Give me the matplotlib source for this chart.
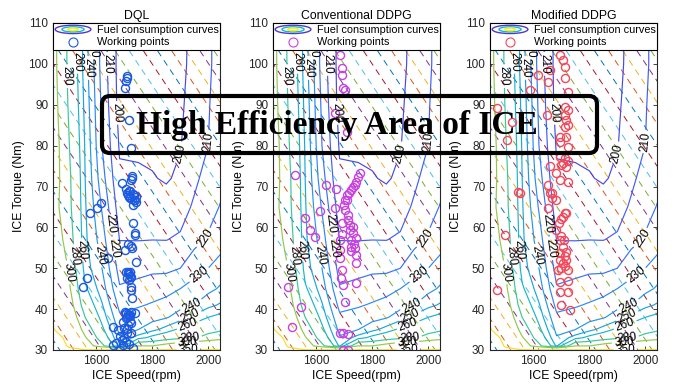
import numpy as np
import matplotlib
matplotlib.use('Agg')
import matplotlib.pyplot as plt
from matplotlib.colors import LinearSegmentedColormap, Normalize
from matplotlib.legend_handler import HandlerBase
from matplotlib.patches import Ellipse, Rectangle, FancyBboxPatch
from matplotlib.lines import Line2D

plt.rcParams['font.family'] = ['Liberation Sans', 'DejaVu Sans']
plt.rcParams['lines.dashed_pattern'] = (6.5, 5.0)

# ---- engine BSFC map (g/kWh), rows = torque, cols = speed ----
map_speed = [1440, 1500, 1560, 1620, 1683, 1750, 1800, 1850, 1900, 1950, 2000, 2050]
map_torque = [30, 31, 33, 35, 38, 41, 45, 50, 57, 65, 72, 80, 90, 100, 110]
bsfc = [
    [420, 360, 352, 352, 352, 352, 352, 352, 352, 352, 352, 352],
    [400, 345, 315, 285, 248, 300, 300, 309, 318, 322, 325, 330],
    [370, 340, 302, 270, 241, 255, 264, 271, 276, 278, 287, 292],
    [354, 330, 292, 263, 237, 240, 247, 254, 263, 268, 273, 278],
    [348, 320, 280, 256, 232, 234, 236, 239, 245, 253, 260, 264],
    [344, 312, 270, 251, 227, 229, 231, 234, 237, 240, 247, 252],
    [339, 305, 262, 245, 221, 223, 225, 226, 230, 234, 237, 242],
    [333, 299, 255, 240, 216, 217, 218, 218, 220, 226, 230, 235],
    [318, 291, 252, 235, 209.8, 209.7, 209.9, 209.8, 211.3, 217, 221, 226],
    [311, 286, 251, 229, 205, 205.3, 205, 204, 206, 211.4, 216.8, 221],
    [314, 285, 250, 224, 201.5, 201.4, 200.6, 199, 201.8, 208, 213.6, 218],
    [315, 282, 249, 220, 199, 198.5, 198, 197, 199.5, 206, 210, 215],
    [312, 279, 247, 218, 196.5, 196.5, 196, 195.5, 198.5, 204, 209.5, 214],
    [310, 277, 245, 216, 196, 195.5, 195, 194.5, 197.5, 203, 209, 213],
    [310, 277, 245, 216, 196, 195.5, 195, 194.5, 197, 203, 209, 213],
]
bsfc_levels = [200, 210, 220, 230, 240, 250, 260, 280, 300, 350]

# dashed iso-lines (corner table, linear)
iso_speed = [1440, 2050]
iso_torque = [30, 110]
iso_map = [[30, 92.8], [110, 172.8]]
iso_levels = [33, 38.2, 43.4, 48.6, 53.8, 59, 64.2, 69.4, 74.6, 79.8, 85, 90.2, 95.4,
              100.6, 105.8, 111, 116.2, 121.4, 126.6, 131.8, 137, 142.2, 147.4, 152.6,
              157.8, 163, 168.2]

# ---- working points ----
dql_speed = [1708, 1708, 1707, 1704, 1717, 1723, 1693, 1727, 1729, 1725,
             1708, 1712, 1718, 1722, 1727, 1733, 1738, 1742, 1715, 1720, 1730, 1735, 1740, 1731, 1705,
             1577, 1601, 1618, 1731, 1737, 1738, 1713, 1702, 1729, 1725, 1741, 1642, 1565, 1551,
             1707, 1712, 1716, 1720, 1724, 1710, 1718, 1714, 1722,
             1725, 1725, 1729,
             1702, 1707, 1712, 1717, 1722, 1725, 1737, 1710, 1705,
             1725, 1713, 1722, 1660, 1677, 1685, 1708, 1725, 1672, 1695, 1660, 1684, 1731,
             1700, 1690, 1705, 1715, 1700, 1695, 1710]
dql_torque = [97, 96.5, 95.7, 94, 86.3, 79.3, 70.9, 72, 72.5, 71.5,
              68.5, 67.9, 67.5, 67.2, 67, 66.8, 66.7, 67.5, 69, 68.8, 68.2, 67.8, 66.2, 65.5, 69.5,
              63.4, 64.7, 65.9, 61, 58.6, 58.2, 56, 54.5, 54.9, 55.5, 51.6, 52.4, 47.5, 45.5,
              49.2, 49, 48.5, 48.2, 47.8, 47.5, 47.1, 48.8, 49,
              45.5, 44.7, 42.7,
              39.4, 39, 38.8, 38.5, 38.2, 39.3, 39, 38, 37.8,
              36.5, 36.2, 37.2, 35.7, 35, 33.5, 34.2, 34.2, 31.7, 31.3, 31.3, 30, 30.4,
              33, 32.5, 32, 31.5, 35.5, 36.8, 35.2]

cddpg_speed = [1684, 1690, 1690, 1695, 1702, 1666, 1708, 1636, 1523, 1672,
               1755, 1749, 1743, 1737, 1731, 1725, 1718, 1708, 1702, 1708, 1700, 1702, 1712, 1714,
               1719, 1731, 1725, 1725, 1725, 1743, 1743, 1735, 1740, 1720, 1730, 1738,
               1690, 1684, 1684, 1690, 1688, 1695, 1702, 1684, 1695, 1714, 1695, 1714, 1743,
               1559, 1577, 1595, 1500, 1545, 1512, 1612, 1666, 1690, 1686]
cddpg_torque = [102.2, 98.9, 97.3, 94, 93.6, 87.9, 83.4, 70.4, 72.8, 69.3,
                73.2, 72.4, 71, 70.3, 69.8, 69.2, 68.5, 67.9, 66.7, 66.7, 65.5, 64.3, 63, 61.8,
                59.4, 58.6, 57, 55.3, 54.1, 53.3, 51.2, 56, 57.5, 60.5, 60, 55,
                61, 56.9, 52.4, 49.6, 47.5, 45.9, 41.8, 34.1, 34.1, 33.8, 30, 30, 46.3,
                62.2, 59.4, 57.7, 45.5, 40.5, 35.7, 63.9, 64.7, 58.5, 54.5]

mddpg_speed = [1694, 1706, 1712, 1712, 1724, 1659, 1617, 1653, 1588, 1647, 1469, 1522, 1504, 1546,
               1712, 1724, 1712, 1718, 1724, 1712, 1694, 1718, 1694, 1724, 1694, 1712, 1706, 1724,
               1700, 1718, 1659, 1682, 1694, 1724, 1665, 1653,
               1659, 1665, 1682, 1552, 1653, 1718, 1706, 1682, 1690, 1700, 1712, 1694, 1706, 1694,
               1712, 1694, 1706, 1724, 1688, 1694, 1724, 1694, 1724, 1700, 1730, 1498, 1469,
               1700, 1710, 1715, 1700, 1712, 1718]
mddpg_torque = [102.2, 101, 99.3, 96.5, 93.2, 98.5, 97.3, 95.6, 93.6, 87.5, 89.1, 85.9, 81.4, 68.7,
                89.5, 88.7, 87.5, 86.3, 85, 84.5, 82.2, 82.2, 81, 79.7, 77.3, 77, 75.7, 76.3,
                75.3, 74.7, 74.9, 73.2, 71.6, 71.2, 68.3, 70.4,
                68.3, 67.2, 66.7, 68.3, 64.7, 63.4, 62.6, 59.4, 61, 62, 63.4, 56.9, 55.3, 53.7,
                53, 52.1, 51.2, 49.6, 49.6, 46.7, 47, 44.3, 44.3, 41, 39.8, 58.1, 44.7,
                58, 57, 54, 50, 50.5, 52]

panels = [
    ('DQL', dql_speed, dql_torque, (0.1, 0.35, 0.88)),
    ('Conventional DDPG', cddpg_speed, cddpg_torque, (0.78, 0.25, 0.88)),
    ('Modified DDPG', mddpg_speed, mddpg_torque, (0.96, 0.28, 0.36)),
]

# contour label spots (layout only)
label_spots = [(1490, 97), (1527, 100.5), (1570, 99), (1600, 104), (1645, 100), (1666, 88),
               (1500, 49), (1522, 53), (1556, 54.5), (1605, 53), (1640, 61), (1676, 55),
               (1905, 78), (2003, 81), (1997, 57), (1972, 48), (1940, 41), (1933, 38.6),
               (1926, 36.6), (1935, 32.5), (1930, 30.8), (1925, 30.2)]

parula = LinearSegmentedColormap.from_list('parula', [
    (0.2422, 0.1504, 0.6603), (0.2811, 0.3228, 0.9579), (0.1786, 0.5289, 0.9682),
    (0.0689, 0.6948, 0.8394), (0.2161, 0.7843, 0.5923), (0.6720, 0.7793, 0.2227),
    (0.9970, 0.7659, 0.2199), (0.9566, 0.8983, 0.1521), (0.9769, 0.9839, 0.0805)])
matlab_colors = [(0, 0.447, 0.741), (0.85, 0.325, 0.098), (0.929, 0.694, 0.125),
                 (0.494, 0.184, 0.556), (0.466, 0.674, 0.188), (0.301, 0.745, 0.933),
                 (0.635, 0.078, 0.184)]


class ContourIcon(HandlerBase):
    def create_artists(self, legend, orig_handle, xdescent, ydescent, width, height, fontsize, trans):
        cx = width / 2 - xdescent
        cy = height / 2 - ydescent
        arts = []
        for frac, col in [(1.0, (0.3, 0.22, 0.8)), (0.62, (0.1, 0.72, 0.78)), (0.3, (0.98, 0.93, 0.1))]:
            e = Ellipse((cx, cy), width * frac, height * 1.1 * frac, fill=False,
                        edgecolor=col, lw=1.0, transform=trans)
            arts.append(e)
        return arts


fig = plt.figure(figsize=(6.78, 3.88), dpi=100)
lefts = [53, 273, 490]

S, T = np.meshgrid(map_speed, map_torque)
Z = np.array(bsfc)
IS, IT = np.meshgrid(iso_speed, iso_torque)
IZ = np.array(iso_map)
dash_cols = [matlab_colors[i % 7] for i in range(len(iso_levels))]

for (title, xs, ys, col), left in zip(panels, lefts):
    ax = fig.add_axes([left / 678, 38 / 388, 167 / 678, 327 / 388])
    ax.contour(IS, IT, IZ, levels=iso_levels, colors=dash_cols, linewidths=0.7,
               linestyles='dashed')
    cs = ax.contour(S, T, Z, levels=bsfc_levels, cmap=parula,
                    norm=Normalize(180, 380), linewidths=0.85)
    ax.clabel(cs, manual=label_spots, inline=True, inline_spacing=2, fontsize=8.5,
              colors='k', fmt='%d')
    ax.plot(xs, ys, 'o', mfc='none', mec=col, ms=5.8, mew=1.0)

    ax.set_xlim(1445, 2042)
    ax.set_ylim(30, 110)
    ax.set_xticks([1600, 1800, 2000])
    ax.set_yticks(range(30, 111, 10))
    ax.tick_params(direction='in', top=True, right=True, length=3, width=0.6,
                   labelsize=8.5, colors=(0.15, 0.15, 0.15))
    for sp in ax.spines.values():
        sp.set_linewidth(0.8)
        sp.set_color((0.15, 0.15, 0.15))
    ax.set_title(title, fontsize=8.8, pad=3)
    ax.set_xlabel('ICE Speed(rpm)', fontsize=8.8, labelpad=2)
    ax.set_ylabel('ICE Torque (Nm)', fontsize=8.8, labelpad=2)

    proxy = Rectangle((0, 0), 1, 1)
    mk = Line2D([], [], marker='o', ls='none', mfc='none', mec=col, ms=6.5, mew=0.8)
    leg = ax.legend([proxy, mk], ['Fuel consumption curves', 'Working points'],
                    handler_map={proxy: ContourIcon()}, loc='upper left',
                    bbox_to_anchor=(0, 0, 1, 1), mode='expand', borderaxespad=0,
                    fontsize=7.8, handlelength=3.3, handletextpad=0.55,
                    labelspacing=0.2, borderpad=0.2, fancybox=False,
                    framealpha=1, edgecolor='k')
    leg.get_frame().set_linewidth(0.8)

# highlight box over all panels
box = FancyBboxPatch((1.02, 2.35), 4.95, 0.57, boxstyle='round,pad=0,rounding_size=0.08',
                     transform=fig.dpi_scale_trans, fill=False, lw=3, ec='k', zorder=10)
fig.add_artist(box)
fig.text(3.37, 2.54, 'High Efficiency Area of ICE', transform=fig.dpi_scale_trans,
         ha='center', va='baseline', fontsize=24, fontweight='bold',
         family=['Liberation Serif', 'DejaVu Serif'], zorder=11)

fig.savefig('out.png', dpi=100)
